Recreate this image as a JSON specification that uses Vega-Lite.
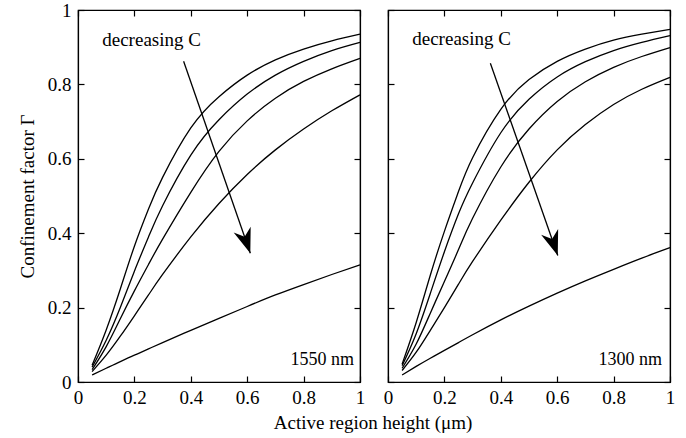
{
  "$schema": "https://vega.github.io/schema/vega-lite/v6.json",
  "background": "white",
  "padding": {"left": 17, "top": 0, "right": 5, "bottom": 5},
  "bounds": "flush",
  "spacing": 28,
  "config": {
    "font": "Liberation Serif",
    "view": {"stroke": "black", "strokeWidth": 1.2},
    "axis": {"domainColor": "black", "domainWidth": 1.2, "tickColor": "black", "tickWidth": 1.2, "tickSize": -6, "labelColor": "black", "titleColor": "black", "labelFont": "Liberation Serif", "titleFont": "Liberation Serif", "labelFontSize": 19, "titleFontSize": 19, "titleFontWeight": "normal", "grid": false}
  },
  "datasets": {
    "curves": [
      {"p":"1550","c":1,"h":0.05,"g":0.045},{"p":"1550","c":1,"h":0.1,"g":0.14},{"p":"1550","c":1,"h":0.15,"g":0.25},{"p":"1550","c":1,"h":0.2,"g":0.365},{"p":"1550","c":1,"h":0.25,"g":0.465},{"p":"1550","c":1,"h":0.3,"g":0.55},{"p":"1550","c":1,"h":0.4,"g":0.683},{"p":"1550","c":1,"h":0.5,"g":0.767},{"p":"1550","c":1,"h":0.6,"g":0.825},{"p":"1550","c":1,"h":0.7,"g":0.866},{"p":"1550","c":1,"h":0.8,"g":0.895},{"p":"1550","c":1,"h":0.9,"g":0.917},{"p":"1550","c":1,"h":1.0,"g":0.935},
      {"p":"1550","c":2,"h":0.05,"g":0.04},{"p":"1550","c":2,"h":0.1,"g":0.112},{"p":"1550","c":2,"h":0.15,"g":0.2},{"p":"1550","c":2,"h":0.2,"g":0.298},{"p":"1550","c":2,"h":0.25,"g":0.39},{"p":"1550","c":2,"h":0.3,"g":0.474},{"p":"1550","c":2,"h":0.4,"g":0.61},{"p":"1550","c":2,"h":0.5,"g":0.705},{"p":"1550","c":2,"h":0.6,"g":0.774},{"p":"1550","c":2,"h":0.7,"g":0.825},{"p":"1550","c":2,"h":0.8,"g":0.862},{"p":"1550","c":2,"h":0.9,"g":0.891},{"p":"1550","c":2,"h":1.0,"g":0.913},
      {"p":"1550","c":3,"h":0.05,"g":0.033},{"p":"1550","c":3,"h":0.1,"g":0.095},{"p":"1550","c":3,"h":0.15,"g":0.17},{"p":"1550","c":3,"h":0.2,"g":0.245},{"p":"1550","c":3,"h":0.25,"g":0.316},{"p":"1550","c":3,"h":0.3,"g":0.384},{"p":"1550","c":3,"h":0.4,"g":0.51},{"p":"1550","c":3,"h":0.5,"g":0.62},{"p":"1550","c":3,"h":0.6,"g":0.702},{"p":"1550","c":3,"h":0.7,"g":0.763},{"p":"1550","c":3,"h":0.8,"g":0.808},{"p":"1550","c":3,"h":0.9,"g":0.842},{"p":"1550","c":3,"h":1.0,"g":0.87},
      {"p":"1550","c":4,"h":0.05,"g":0.028},{"p":"1550","c":4,"h":0.1,"g":0.072},{"p":"1550","c":4,"h":0.15,"g":0.123},{"p":"1550","c":4,"h":0.2,"g":0.178},{"p":"1550","c":4,"h":0.25,"g":0.234},{"p":"1550","c":4,"h":0.3,"g":0.289},{"p":"1550","c":4,"h":0.4,"g":0.39},{"p":"1550","c":4,"h":0.5,"g":0.48},{"p":"1550","c":4,"h":0.6,"g":0.558},{"p":"1550","c":4,"h":0.7,"g":0.624},{"p":"1550","c":4,"h":0.8,"g":0.68},{"p":"1550","c":4,"h":0.9,"g":0.729},{"p":"1550","c":4,"h":1.0,"g":0.772},
      {"p":"1550","c":5,"h":0.05,"g":0.019},{"p":"1550","c":5,"h":0.1,"g":0.037},{"p":"1550","c":5,"h":0.15,"g":0.055},{"p":"1550","c":5,"h":0.2,"g":0.072},{"p":"1550","c":5,"h":0.25,"g":0.089},{"p":"1550","c":5,"h":0.3,"g":0.106},{"p":"1550","c":5,"h":0.4,"g":0.139},{"p":"1550","c":5,"h":0.5,"g":0.171},{"p":"1550","c":5,"h":0.6,"g":0.203},{"p":"1550","c":5,"h":0.7,"g":0.234},{"p":"1550","c":5,"h":0.8,"g":0.262},{"p":"1550","c":5,"h":0.9,"g":0.289},{"p":"1550","c":5,"h":1.0,"g":0.315},
      {"p":"1300","c":1,"h":0.05,"g":0.048},{"p":"1300","c":1,"h":0.1,"g":0.16},{"p":"1300","c":1,"h":0.15,"g":0.287},{"p":"1300","c":1,"h":0.2,"g":0.405},{"p":"1300","c":1,"h":0.25,"g":0.512},{"p":"1300","c":1,"h":0.3,"g":0.603},{"p":"1300","c":1,"h":0.4,"g":0.733},{"p":"1300","c":1,"h":0.5,"g":0.813},{"p":"1300","c":1,"h":0.6,"g":0.862},{"p":"1300","c":1,"h":0.7,"g":0.895},{"p":"1300","c":1,"h":0.8,"g":0.919},{"p":"1300","c":1,"h":0.9,"g":0.935},{"p":"1300","c":1,"h":1.0,"g":0.948},
      {"p":"1300","c":2,"h":0.05,"g":0.044},{"p":"1300","c":2,"h":0.1,"g":0.13},{"p":"1300","c":2,"h":0.15,"g":0.238},{"p":"1300","c":2,"h":0.2,"g":0.35},{"p":"1300","c":2,"h":0.25,"g":0.452},{"p":"1300","c":2,"h":0.3,"g":0.535},{"p":"1300","c":2,"h":0.4,"g":0.67},{"p":"1300","c":2,"h":0.5,"g":0.76},{"p":"1300","c":2,"h":0.6,"g":0.82},{"p":"1300","c":2,"h":0.7,"g":0.861},{"p":"1300","c":2,"h":0.8,"g":0.891},{"p":"1300","c":2,"h":0.9,"g":0.913},{"p":"1300","c":2,"h":1.0,"g":0.931},
      {"p":"1300","c":3,"h":0.05,"g":0.037},{"p":"1300","c":3,"h":0.1,"g":0.102},{"p":"1300","c":3,"h":0.15,"g":0.185},{"p":"1300","c":3,"h":0.2,"g":0.27},{"p":"1300","c":3,"h":0.25,"g":0.356},{"p":"1300","c":3,"h":0.3,"g":0.44},{"p":"1300","c":3,"h":0.4,"g":0.578},{"p":"1300","c":3,"h":0.5,"g":0.68},{"p":"1300","c":3,"h":0.6,"g":0.754},{"p":"1300","c":3,"h":0.7,"g":0.807},{"p":"1300","c":3,"h":0.8,"g":0.846},{"p":"1300","c":3,"h":0.9,"g":0.875},{"p":"1300","c":3,"h":1.0,"g":0.899},
      {"p":"1300","c":4,"h":0.05,"g":0.031},{"p":"1300","c":4,"h":0.1,"g":0.08},{"p":"1300","c":4,"h":0.15,"g":0.139},{"p":"1300","c":4,"h":0.2,"g":0.2},{"p":"1300","c":4,"h":0.25,"g":0.263},{"p":"1300","c":4,"h":0.3,"g":0.324},{"p":"1300","c":4,"h":0.4,"g":0.435},{"p":"1300","c":4,"h":0.5,"g":0.537},{"p":"1300","c":4,"h":0.6,"g":0.624},{"p":"1300","c":4,"h":0.7,"g":0.692},{"p":"1300","c":4,"h":0.8,"g":0.746},{"p":"1300","c":4,"h":0.9,"g":0.787},{"p":"1300","c":4,"h":1.0,"g":0.819},
      {"p":"1300","c":5,"h":0.05,"g":0.019},{"p":"1300","c":5,"h":0.1,"g":0.042},{"p":"1300","c":5,"h":0.15,"g":0.064},{"p":"1300","c":5,"h":0.2,"g":0.085},{"p":"1300","c":5,"h":0.25,"g":0.106},{"p":"1300","c":5,"h":0.3,"g":0.127},{"p":"1300","c":5,"h":0.4,"g":0.167},{"p":"1300","c":5,"h":0.5,"g":0.204},{"p":"1300","c":5,"h":0.6,"g":0.239},{"p":"1300","c":5,"h":0.7,"g":0.272},{"p":"1300","c":5,"h":0.8,"g":0.303},{"p":"1300","c":5,"h":0.9,"g":0.333},{"p":"1300","c":5,"h":1.0,"g":0.361}
    ],
    "arrows": [
      {"p":"1550","h":0.3745,"g":0.862,"h2":0.611,"g2":0.346},
      {"p":"1300","h":0.363,"g":0.857,"h2":0.602,"g2":0.34}
    ],
    "labels": [
      {"p":"1550","h":0.086,"g":0.902,"t":"decreasing C","k":"note"},
      {"p":"1300","h":0.086,"g":0.906,"t":"decreasing C","k":"note"},
      {"p":"1550","h":0.979,"g":0.047,"t":"1550 nm","k":"wl"},
      {"p":"1300","h":0.972,"g":0.047,"t":"1300 nm","k":"wl"}
    ]
  },
  "hconcat": [
    {
      "width": 282, "height": 372,
      "layer": [
        {
          "data": {"name": "curves"},
          "transform": [{"filter": "datum.p == '1550'"}],
          "mark": {"type": "line", "color": "black", "strokeWidth": 1.3, "interpolate": "natural"},
          "encoding": {
            "x": {"field": "h", "type": "quantitative", "scale": {"domain": [0, 1], "nice": false}, "axis": {"orient": "bottom", "values": [0, 0.2, 0.4, 0.6, 0.8, 1], "format": "~g", "labelPadding": 12, "title": "Active region height (\u03bcm)", "titleX": 294.5, "titleAlign": "center", "titlePadding": 6, "labelFlush": false}},
            "y": {"field": "g", "type": "quantitative", "scale": {"domain": [0, 1], "nice": false}, "axis": {"orient": "left", "values": [0, 0.2, 0.4, 0.6, 0.8, 1], "format": "~g", "labelPadding": 13, "title": "Confinement factor \u0393", "titlePadding": 10}},
            "detail": {"field": "c", "type": "nominal"}
          }
        },
        {
          "data": {"name": "curves"},
          "transform": [{"filter": "datum.p == '1550'"}],
          "mark": {"type": "line", "opacity": 0},
          "encoding": {
            "x": {"field": "h", "type": "quantitative", "axis": {"orient": "top", "values": [0, 0.2, 0.4, 0.6, 0.8, 1], "labels": false, "title": null}},
            "y": {"field": "g", "type": "quantitative", "axis": {"orient": "right", "values": [0, 0.2, 0.4, 0.6, 0.8, 1], "labels": false, "title": null}},
            "detail": {"field": "c", "type": "nominal"}
          }
        },
        {
          "data": {"name": "arrows"},
          "transform": [{"filter": "datum.p == '1550'"}],
          "mark": {"type": "rule", "color": "black", "strokeWidth": 1.3},
          "encoding": {"x": {"field": "h", "type": "quantitative", "axis": null}, "y": {"field": "g", "type": "quantitative", "axis": null}, "x2": {"field": "h2"}, "y2": {"field": "g2"}}
        },
        {
          "data": {"name": "arrows"},
          "transform": [{"filter": "datum.p == '1550'"}],
          "mark": {"type": "point", "shape": "M0,0 L-0.36,-1 L0,-0.7 L0.36,-1 Z", "filled": true, "color": "black", "opacity": 1, "size": 2500, "angle": 341, "strokeWidth": 0},
          "encoding": {"x": {"field": "h2", "type": "quantitative", "axis": null}, "y": {"field": "g2", "type": "quantitative", "axis": null}}
        },
        {
          "data": {"name": "labels"},
          "transform": [{"filter": "datum.p == '1550' && datum.k == 'note'"}],
          "mark": {"type": "text", "align": "left", "baseline": "alphabetic", "fontSize": 19, "font": "Liberation Serif", "color": "black"},
          "encoding": {"x": {"field": "h", "type": "quantitative", "axis": null}, "y": {"field": "g", "type": "quantitative", "axis": null}, "text": {"field": "t"}}
        },
        {
          "data": {"name": "labels"},
          "transform": [{"filter": "datum.p == '1550' && datum.k == 'wl'"}],
          "mark": {"type": "text", "align": "right", "baseline": "alphabetic", "fontSize": 18, "font": "Liberation Serif", "color": "black"},
          "encoding": {"x": {"field": "h", "type": "quantitative", "axis": null}, "y": {"field": "g", "type": "quantitative", "axis": null}, "text": {"field": "t"}}
        }
      ],
      "resolve": {"axis": {"x": "independent", "y": "independent"}}
    },
    {
      "width": 282, "height": 372,
      "layer": [
        {
          "data": {"name": "curves"},
          "transform": [{"filter": "datum.p == '1300'"}],
          "mark": {"type": "line", "color": "black", "strokeWidth": 1.3, "interpolate": "natural"},
          "encoding": {
            "x": {"field": "h", "type": "quantitative", "scale": {"domain": [0, 1], "nice": false}, "axis": {"orient": "bottom", "values": [0, 0.2, 0.4, 0.6, 0.8, 1], "format": "~g", "labelPadding": 12, "title": null, "labelFlush": false}},
            "y": {"field": "g", "type": "quantitative", "scale": {"domain": [0, 1], "nice": false}, "axis": {"orient": "left", "values": [0, 0.2, 0.4, 0.6, 0.8, 1], "labels": false, "title": null}},
            "detail": {"field": "c", "type": "nominal"}
          }
        },
        {
          "data": {"name": "curves"},
          "transform": [{"filter": "datum.p == '1300'"}],
          "mark": {"type": "line", "opacity": 0},
          "encoding": {
            "x": {"field": "h", "type": "quantitative", "axis": {"orient": "top", "values": [0, 0.2, 0.4, 0.6, 0.8, 1], "labels": false, "title": null}},
            "y": {"field": "g", "type": "quantitative", "axis": {"orient": "right", "values": [0, 0.2, 0.4, 0.6, 0.8, 1], "labels": false, "title": null}},
            "detail": {"field": "c", "type": "nominal"}
          }
        },
        {
          "data": {"name": "arrows"},
          "transform": [{"filter": "datum.p == '1300'"}],
          "mark": {"type": "rule", "color": "black", "strokeWidth": 1.3},
          "encoding": {"x": {"field": "h", "type": "quantitative", "axis": null}, "y": {"field": "g", "type": "quantitative", "axis": null}, "x2": {"field": "h2"}, "y2": {"field": "g2"}}
        },
        {
          "data": {"name": "arrows"},
          "transform": [{"filter": "datum.p == '1300'"}],
          "mark": {"type": "point", "shape": "M0,0 L-0.36,-1 L0,-0.7 L0.36,-1 Z", "filled": true, "color": "black", "opacity": 1, "size": 2500, "angle": 341, "strokeWidth": 0},
          "encoding": {"x": {"field": "h2", "type": "quantitative", "axis": null}, "y": {"field": "g2", "type": "quantitative", "axis": null}}
        },
        {
          "data": {"name": "labels"},
          "transform": [{"filter": "datum.p == '1300' && datum.k == 'note'"}],
          "mark": {"type": "text", "align": "left", "baseline": "alphabetic", "fontSize": 19, "font": "Liberation Serif", "color": "black"},
          "encoding": {"x": {"field": "h", "type": "quantitative", "axis": null}, "y": {"field": "g", "type": "quantitative", "axis": null}, "text": {"field": "t"}}
        },
        {
          "data": {"name": "labels"},
          "transform": [{"filter": "datum.p == '1300' && datum.k == 'wl'"}],
          "mark": {"type": "text", "align": "right", "baseline": "alphabetic", "fontSize": 18, "font": "Liberation Serif", "color": "black"},
          "encoding": {"x": {"field": "h", "type": "quantitative", "axis": null}, "y": {"field": "g", "type": "quantitative", "axis": null}, "text": {"field": "t"}}
        }
      ],
      "resolve": {"axis": {"x": "independent", "y": "independent"}}
    }
  ]
}
